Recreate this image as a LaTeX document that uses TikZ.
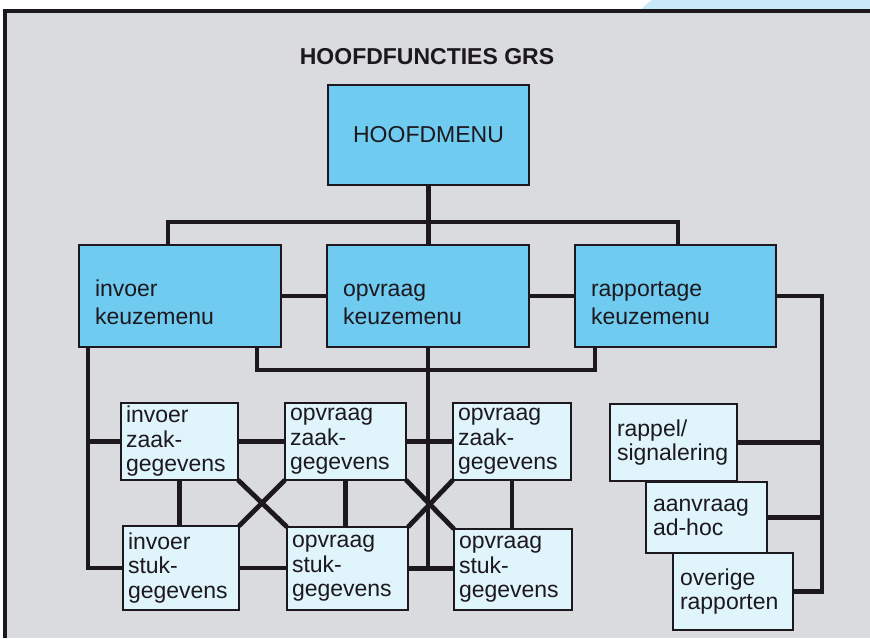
\documentclass[tikz,border=0pt]{standalone}
\usepackage{fontspec}
\setmainfont{Liberation Sans}
\usetikzlibrary{calc}

\definecolor{menublue}{RGB}{112,203,240}
\definecolor{paleblue}{RGB}{224,244,252}
\definecolor{panelgrey}{RGB}{218,219,223}
\definecolor{smudge}{RGB}{202,233,248}
\definecolor{ink}{RGB}{28,24,30}

\tikzset{
  menu/.style={draw=ink, line width=2pt, fill=menublue, outer sep=0pt, anchor=north west, text=ink, font=\fontsize{23}{28}\selectfont},
  keuze/.style={menu, align=left, inner xsep=16pt, inner ysep=0pt, minimum height=102pt},
  gegevens/.style={draw=ink, line width=2pt, fill=paleblue, outer sep=0pt, anchor=north west, text=ink, align=left, inner ysep=0pt, inner xsep=5pt, font=\fontsize{23}{24.5}\selectfont},
  rapport/.style={gegevens, inner xsep=7pt},
  link/.style={draw=ink, line width=4.8pt},
}
\newcommand{\menutop}{\rule{0pt}{30pt}}

\begin{document}
\begin{tikzpicture}[x=1pt,y=1pt,yscale=-1,xscale=1]
	\useasboundingbox (0,0) rectangle (870,638);
	
	%Shape: page and panel
	\fill[smudge] (652,0) -- (870,0) -- (870,11) -- (640,11) .. controls (644,6) and (648,3) .. (652,0) -- cycle;
	\fill[panelgrey] (5,12) rectangle (870,638);
	\draw[ink, line width=3.5pt] (5,638) -- (5,11) -- (870,11);
	
	% Text Node
	\node[text=ink, font=\bfseries\fontsize{23}{26}\selectfont] (title) at (427,57) {HOOFDFUNCTIES GRS};
	
	%Shape: menus
	\node[menu, minimum width=201pt, minimum height=100pt, inner sep=0pt] (hm) at (328,85) {HOOFDMENU};
	\node[keuze, text width=170pt] (ik) at (79,245) {\menutop invoer\\keuzemenu};
	\node[keuze, text width=170pt] (ok) at (327,245) {\menutop opvraag\\keuzemenu};
	\node[keuze, text width=169pt] (rk) at (575,245) {\menutop rapportage\\keuzemenu};
	
	%Shape: zaak- and stukgegevens
	\node[gegevens, text width=107pt, minimum height=77pt] (iz) at (121,403) {invoer\\zaak-\\gegevens};
	\node[gegevens, text width=111pt, minimum height=77pt] (oz1) at (285,403) {opvraag\\zaak-\\gegevens};
	\node[gegevens, text width=108pt, minimum height=77pt] (oz2) at (453,403) {opvraag\\zaak-\\gegevens};
	\node[gegevens, text width=106pt, minimum height=84pt] (is) at (123,526) {invoer\\stuk-\\gegevens};
	\node[gegevens, text width=111pt, minimum height=83pt] (os1) at (287,527) {opvraag\\stuk-\\gegevens};
	\node[gegevens, text width=108pt, minimum height=81pt] (os2) at (454,529) {opvraag\\stuk-\\gegevens};
	
	%Shape: rapporten
	\node[rapport, text width=113pt, minimum height=77pt] (rs) at (610,404) {rappel/\\signalering};
	\node[rapport, text width=107pt, minimum height=71pt] (ah) at (646,482) {aanvraag\\ad-hoc};
	\node[rapport, text width=106pt, minimum height=77pt] (or) at (673,553) {overige\\rapporten};
	
	\coordinate (tl) at (168,222);
	\coordinate (tr) at (678,222);
	\coordinate (ll) at (88,0);
	\coordinate (ml) at (257,370);
	\coordinate (mr) at (595,370);
	\coordinate (rl) at (822,0);
	
	%Straight Lines: top tree
	\draw[link] (hm.south) -- (hm.south |- ok.north);
	\draw[link] (ik.north -| tl) |- (tr) -- (rk.north -| tr);
	\draw[link] (ik) -- (ok);
	\draw[link] (ok) -- (rk);
	
	%Straight Lines: under the menus
	\draw[link] (ik.south -| ml) |- (mr) -- (rk.south -| mr);
	\draw[link] (ik.south -| ll) |- (is.west);
	\draw[link] (iz.west) -- (iz.west -| ll);
	\draw[link] (ok.south) -- (ok.south |- os1.east);
	
	%Straight Lines: gegevens
	\draw[link] (iz) -- (oz1);
	\draw[link] (oz1) -- (oz2);
	\draw[link] (is.east) -- (is.east -| os1.west);
	\draw[link] (os1.east) -- (os1.east -| os2.west);
	\draw[link] (iz.south) -- (iz.south |- is.north);
	\draw[link] (oz1.south) -- (oz1.south |- os1.north);
	\draw[link] (oz2.south) -- (oz2.south |- os2.north);
	\draw[link] (iz.south east) -- (os1.north west);
	\draw[link] (is.north east) -- (oz1.south west);
	\draw[link] (oz1.south east) -- (os2.north west);
	\draw[link] (os1.north east) -- (oz2.south west);
	
	%Straight Lines: rapporten
	\draw[link] (rk.east) -| (rl |- or.east) -- (or.east);
	\draw[link] (rs.east) -- (rs.east -| rl);
	\draw[link] (ah.east) -- (ah.east -| rl);
	
\end{tikzpicture}
\end{document}
